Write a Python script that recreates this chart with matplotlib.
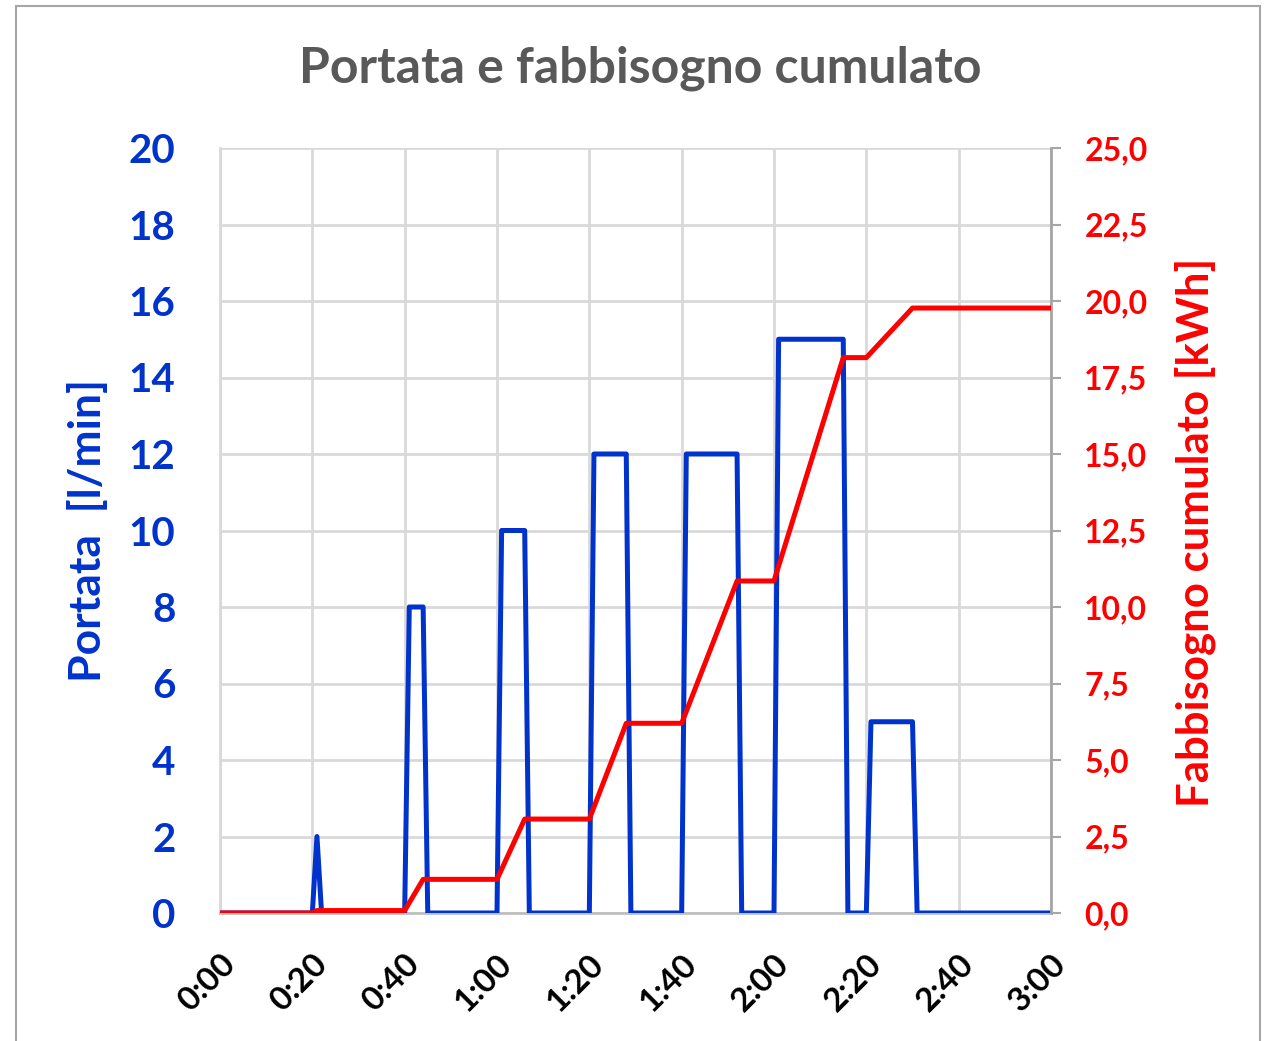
import matplotlib
matplotlib.use("Agg")
import matplotlib.pyplot as plt
from matplotlib.ticker import FuncFormatter, MultipleLocator
from matplotlib.patches import Rectangle

# dati (tempo in minuti)
t_portata = [0, 20, 21, 22, 40, 41, 44, 45, 60, 61, 66, 67, 80, 81, 88, 89,
             100, 101, 112, 113, 120, 121, 135, 136, 140, 141, 150, 151, 180]
portata = [0, 0, 2, 0, 0, 8, 8, 0, 0, 10, 10, 0, 0, 12, 12, 0,
           0, 12, 12, 0, 0, 15, 15, 0, 0, 5, 5, 0, 0]

t_fabb = [0, 20, 21, 40, 44, 60, 66, 80, 88, 100, 112, 120, 135, 140, 150, 180]
fabbisogno = [0, 0, 0.08, 0.08, 1.1, 1.1, 3.07, 3.07, 6.2, 6.2, 10.85, 10.85,
              18.15, 18.15, 19.77, 19.77]

titolo = "Portata e fabbisogno cumulato"
label_sx = "Portata  [l/min]"
label_dx = "Fabbisogno cumulato [kWh]"

BLU = "#0033CC"
ROSSO = "#FF0000"
GRIGIO = "#D9D9D9"

W, H = 1264, 1041
fig = plt.figure(figsize=(W / 100, H / 100), dpi=100)
fig.patch.set_facecolor("white")

# cornice esterna
fig.patches.append(Rectangle((16 / W, -0.05), (1260 - 16) / W, 1.05 - 6 / H,
                             transform=fig.transFigure, fill=False,
                             edgecolor="#A6A6A6", linewidth=1.5))

ax = fig.add_axes([220 / W, 1 - 913 / H, (1051 - 220) / W, (913 - 148) / H])
ax2 = ax.twinx()

ax.plot(t_portata, portata, color=BLU, linewidth=3.6, solid_joinstyle="round",
        solid_capstyle="round", zorder=3)
ax2.plot(t_fabb, fabbisogno, color=ROSSO, linewidth=3.6, solid_joinstyle="round",
         solid_capstyle="butt", zorder=4)

ax.set_xlim(0, 180)
ax.set_ylim(0, 20)
ax2.set_ylim(0, 25)
ax.xaxis.set_major_locator(MultipleLocator(20))
ax.yaxis.set_major_locator(MultipleLocator(2))
ax2.yaxis.set_major_locator(MultipleLocator(2.5))

ax.xaxis.set_major_formatter(FuncFormatter(lambda v, p: f"{int(v) // 60}:{int(v) % 60:02d}"))
ax2.yaxis.set_major_formatter(FuncFormatter(lambda v, p: f"{v:.1f}".replace(".", ",")))

ax.grid(True, color=GRIGIO, linewidth=2)
ax.set_axisbelow(True)

for s in ["top"]:
    ax.spines[s].set_visible(False)
    ax2.spines[s].set_visible(False)
ax.spines["left"].set_color(GRIGIO)
ax.spines["left"].set_linewidth(2)
ax.spines["bottom"].set_color("#BFBFBF")
ax.spines["bottom"].set_linewidth(2)
ax2.spines["left"].set_visible(False)
ax2.spines["bottom"].set_visible(False)
ax2.spines["right"].set_color("#A6A6A6")
ax2.spines["right"].set_linewidth(2)

ax.tick_params(axis="y", length=0, pad=32, labelcolor=BLU)
ax.tick_params(axis="x", length=0, pad=26)
ax2.tick_params(axis="y", length=7, width=1.5, color="#A6A6A6", direction="out",
                pad=17, labelcolor=ROSSO)

for lab in ax.get_yticklabels():
    lab.set_fontfamily("Lato")
    lab.set_fontweight("bold")
    lab.set_fontsize(29)
for lab in ax2.get_yticklabels():
    lab.set_fontfamily("Lato")
    lab.set_fontweight("bold")
    lab.set_fontsize(23)
for lab in ax.get_xticklabels():
    lab.set_fontfamily("Lato")
    lab.set_fontweight("bold")
    lab.set_fontsize(24)
    lab.set_rotation(45)
    lab.set_ha("right")
    lab.set_va("top")
    lab.set_rotation_mode("anchor")

ax.set_ylabel(label_sx, color=BLU, fontsize=32, fontweight="bold", family="Lato")
ax.yaxis.set_label_coords((108 - 220) / (1051 - 220), (913 - 531) / (913 - 148))
ax2.set_ylabel(label_dx, color=ROSSO, fontsize=31.5, fontweight="bold", family="Lato",
               rotation=90)
ax2.yaxis.set_label_coords((1174 - 220) / (1051 - 220), (913 - 532) / (913 - 148))

fig.text(640 / W, 1 - 68 / H, titolo, ha="center", va="center", fontsize=36,
         fontweight="bold", color="#595959", family="Lato")

fig.savefig("out.png", dpi=100)
